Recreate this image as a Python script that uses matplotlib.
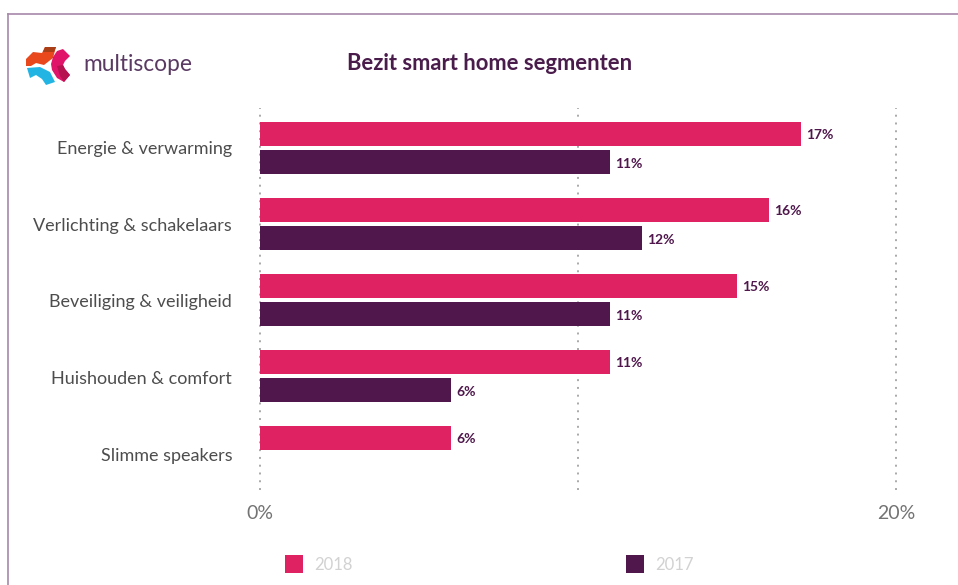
import matplotlib
matplotlib.use("Agg")
import matplotlib.pyplot as plt
from matplotlib.patches import Polygon, Rectangle
from matplotlib.lines import Line2D

plt.rcParams['font.family'] = ['Lato', 'DejaVu Sans']

categories = ["Energie & verwarming", "Verlichting & schakelaars",
              "Beveiliging & veiligheid", "Huishouden & comfort", "Slimme speakers"]
values_2018 = [17, 16, 15, 11, 6]
values_2017 = [11, 12, 11, 6, None]
series_names = ["2018", "2017"]
x_ticks = [0, 20]
x_gridlines = [0, 10, 20]

PINK = "#df2362"
PURPLE = "#4f174c"
W, H = 958, 585

fig = plt.figure(figsize=(W / 100, H / 100), dpi=100, facecolor="white")

# Full-figure overlay in pixel coordinates for frame, logo and legend
bg = fig.add_axes([0, 0, 1, 1])
bg.set_xlim(0, W)
bg.set_ylim(H, 0)
bg.axis("off")
frame_color = "#a888aa"
bg.add_line(Line2D([8, 8], [14, H], color=frame_color, lw=1.2))
bg.add_line(Line2D([8, W], [14, 14], color=frame_color, lw=1.2))

# Logo mark
logo_shapes = [
    ("#e8481c", [(26, 59), (33, 52), (42, 53), (45, 47), (56, 47), (53, 58), (44, 65), (36, 63), (31, 66), (26, 66)]),
    ("#a83f17", [(45, 47), (56, 47), (54, 52), (43, 52)]),
    ("#22b5e3", [(27, 68), (40, 67), (50, 72), (55, 82), (46, 85), (42, 79), (36, 75), (30, 78)]),
    ("#e0156a", [(57, 51), (63, 49), (70, 56), (65, 61), (63, 65), (65, 69), (70, 75), (64, 82), (57, 78), (52, 70), (51, 64), (53, 57)]),
    ("#b5124f", [(57, 66), (63, 65), (65, 69), (70, 75), (64, 82), (60, 76)]),
]
for color, pts in logo_shapes:
    bg.add_patch(Polygon(pts, closed=True, facecolor=color, edgecolor="none"))
bg.text(83, 64.5, "multiscope", fontsize=16.4, color="#5a3a63", va="center", ha="left")
bg.text(490, 63, "Bezit smart home segmenten", fontsize=15.8, fontweight="bold",
        color="#4a1c4c", va="center", ha="center")

# Legend swatches
for x, color, name in zip([285, 626], [PINK, PURPLE], series_names):
    bg.add_patch(Rectangle((x, 555), 18, 18, facecolor=color, edgecolor="none"))
    bg.text(x + 29, 565, name, fontsize=12, color="#d2d2d2", va="center", ha="left")

# Main chart
ax = fig.add_axes([260 / W, 1 - 490 / H, (896 - 260) / W, (490 - 108) / H])
ax.patch.set_alpha(0)
ax.set_xlim(0, 20)
ax.set_ylim(4.5, -0.526)
for s in ax.spines.values():
    s.set_visible(False)
for g in x_gridlines:
    ax.axvline(g, color="#a9a9a9", lw=1.4, ls=(0, (1, 3)), zorder=1, clip_on=False)

offset, height = 0.1875, 0.31
label_nudge = 0.02
for i, (a, b) in enumerate(zip(values_2018, values_2017)):
    ax.barh(i - offset, a, height=height, color=PINK, zorder=2)
    ax.text(a + 0.17, i - offset + label_nudge, f"{a}%", fontsize=10, fontweight="bold",
            color=PURPLE, va="center", ha="left")
    if b is not None:
        ax.barh(i + offset, b, height=height, color=PURPLE, zorder=2)
        ax.text(b + 0.17, i + offset + label_nudge, f"{b}%", fontsize=10, fontweight="bold",
                color=PURPLE, va="center", ha="left")

# Category labels sit on a slightly wider step than the bar groups
label_step = 1.0066
ax.set_yticks([i * label_step for i in range(len(categories))], categories)
ax.set_xticks(x_ticks, [f"{t}%" for t in x_ticks])
ax.tick_params(axis="y", length=0, pad=20, labelsize=13, labelcolor="#4d4d4d")
ax.tick_params(axis="x", length=0, pad=11, labelsize=14, labelcolor="#737373")

fig.savefig("out.png", dpi=100)
